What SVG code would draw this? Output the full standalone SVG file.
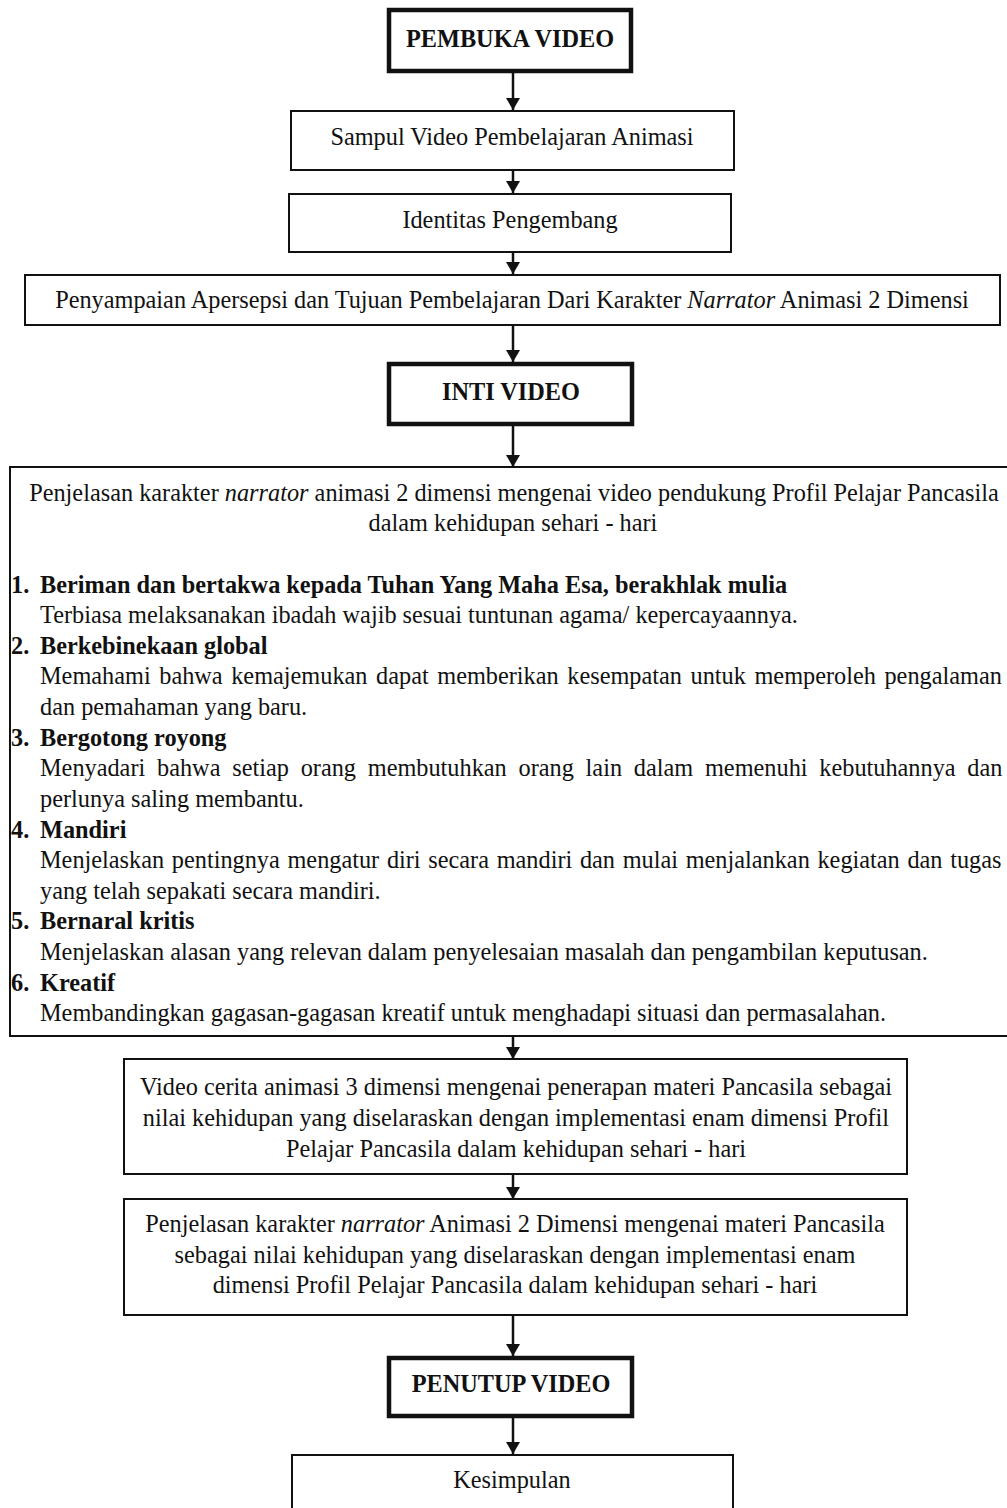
<svg xmlns="http://www.w3.org/2000/svg" width="1007" height="1508" viewBox="0 0 1007 1508">
<style>
text{font-family:"Liberation Serif","Times New Roman",serif;font-size:24.3px;fill:#111;}
.c{text-anchor:middle;}
.b{font-weight:bold;}
.box{fill:#fff;stroke:#111;stroke-width:2;}
.tbox{fill:#fff;stroke:#111;stroke-width:4.5;}
.conn line{stroke:#111;stroke-width:2.5;}
</style>
<defs>
<marker id="ah" markerUnits="userSpaceOnUse" markerWidth="13" markerHeight="14" refX="12" refY="7" orient="auto">
<path d="M0,0 L12,7 L0,14 z" fill="#111"/>
</marker>
</defs>
<rect width="1007" height="1508" fill="#fff"/>
<g id="connectors" class="conn">
<line x1="513" y1="72" x2="513" y2="110" marker-end="url(#ah)"/>
<line x1="513" y1="170" x2="513" y2="193" marker-end="url(#ah)"/>
<line x1="513" y1="252" x2="513" y2="274" marker-end="url(#ah)"/>
<line x1="513" y1="325" x2="513" y2="362" marker-end="url(#ah)"/>
<line x1="513" y1="425" x2="513" y2="467" marker-end="url(#ah)"/>
<line x1="513" y1="1036" x2="513" y2="1059" marker-end="url(#ah)"/>
<line x1="513" y1="1174" x2="513" y2="1199" marker-end="url(#ah)"/>
<line x1="513" y1="1315" x2="513" y2="1356" marker-end="url(#ah)"/>
<line x1="513" y1="1417" x2="513" y2="1454" marker-end="url(#ah)"/>
</g>
<g id="pembuka">
<rect class="tbox" x="389" y="10" width="242" height="61"/>
<text class="c b" x="510" y="47">PEMBUKA VIDEO</text>
</g>
<g id="sampul">
<rect class="box" x="291" y="111" width="443" height="59"/>
<text class="c" x="512" y="145">Sampul Video Pembelajaran Animasi</text>
</g>
<g id="identitas">
<rect class="box" x="289" y="194" width="442" height="58"/>
<text class="c" x="510" y="228">Identitas Pengembang</text>
</g>
<g id="apersepsi">
<rect class="box" x="25" y="275" width="975" height="50"/>
<text class="c" x="512" y="308">Penyampaian Apersepsi dan Tujuan Pembelajaran Dari Karakter <tspan font-style="italic">Narrator</tspan> Animasi 2 Dimensi</text>
</g>
<g id="inti">
<rect class="tbox" x="389" y="364" width="243" height="60"/>
<text class="c b" x="511" y="400">INTI VIDEO</text>
</g>
<g id="profil">
<rect class="box" x="10" y="467" width="1010" height="569"/>
<text class="c" x="514" y="501">Penjelasan karakter <tspan font-style="italic">narrator</tspan> animasi 2 dimensi mengenai video pendukung Profil Pelajar Pancasila</text>
<text class="c" x="513" y="531">dalam kehidupan sehari - hari</text>
<text class="b" x="11" y="593">1.</text><text class="b" x="40" y="593">Beriman dan bertakwa kepada Tuhan Yang Maha Esa, berakhlak mulia</text>
<text x="40" y="623">Terbiasa melaksanakan ibadah wajib sesuai tuntunan agama/ kepercayaannya.</text>
<text class="b" x="11" y="654">2.</text><text class="b" x="40" y="654">Berkebinekaan global</text>
<text x="40" y="684" word-spacing="2.5">Memahami bahwa kemajemukan dapat memberikan kesempatan untuk memperoleh pengalaman</text>
<text x="40" y="715">dan pemahaman yang baru.</text>
<text class="b" x="11" y="746">3.</text><text class="b" x="40" y="746">Bergotong royong</text>
<text x="40" y="776" word-spacing="5.7">Menyadari bahwa setiap orang membutuhkan orang lain dalam memenuhi kebutuhannya dan</text>
<text x="40" y="807">perlunya saling membantu.</text>
<text class="b" x="11" y="838">4.</text><text class="b" x="40" y="838">Mandiri</text>
<text x="40" y="868" word-spacing="1.6">Menjelaskan pentingnya mengatur diri secara mandiri dan mulai menjalankan kegiatan dan tugas</text>
<text x="40" y="899">yang telah sepakati secara mandiri.</text>
<text class="b" x="11" y="929">5.</text><text class="b" x="40" y="929">Bernaral kritis</text>
<text x="40" y="960">Menjelaskan alasan yang relevan dalam penyelesaian masalah dan pengambilan keputusan.</text>
<text class="b" x="11" y="991">6.</text><text class="b" x="40" y="991">Kreatif</text>
<text x="40" y="1021">Membandingkan gagasan-gagasan kreatif untuk menghadapi situasi dan permasalahan.</text>
</g>
<g id="cerita">
<rect class="box" x="124" y="1059" width="783" height="115"/>
<text class="c" x="516" y="1095">Video cerita animasi 3 dimensi mengenai penerapan materi Pancasila sebagai</text>
<text class="c" x="516" y="1126">nilai kehidupan yang diselaraskan dengan implementasi enam dimensi Profil</text>
<text class="c" x="516" y="1157">Pelajar Pancasila dalam kehidupan sehari - hari</text>
</g>
<g id="penjelasan">
<rect class="box" x="124" y="1199" width="783" height="116"/>
<text class="c" x="515" y="1232">Penjelasan karakter <tspan font-style="italic">narrator</tspan> Animasi 2 Dimensi mengenai materi Pancasila</text>
<text class="c" x="515" y="1263">sebagai nilai kehidupan yang diselaraskan dengan implementasi enam</text>
<text class="c" x="515" y="1293">dimensi Profil Pelajar Pancasila dalam kehidupan sehari - hari</text>
</g>
<g id="penutup">
<rect class="tbox" x="389" y="1358" width="243" height="58"/>
<text class="c b" x="511" y="1392">PENUTUP VIDEO</text>
</g>
<g id="kesimpulan">
<rect class="box" x="292" y="1455" width="441" height="70"/>
<text class="c" x="512" y="1488">Kesimpulan</text>
</g>
</svg>
